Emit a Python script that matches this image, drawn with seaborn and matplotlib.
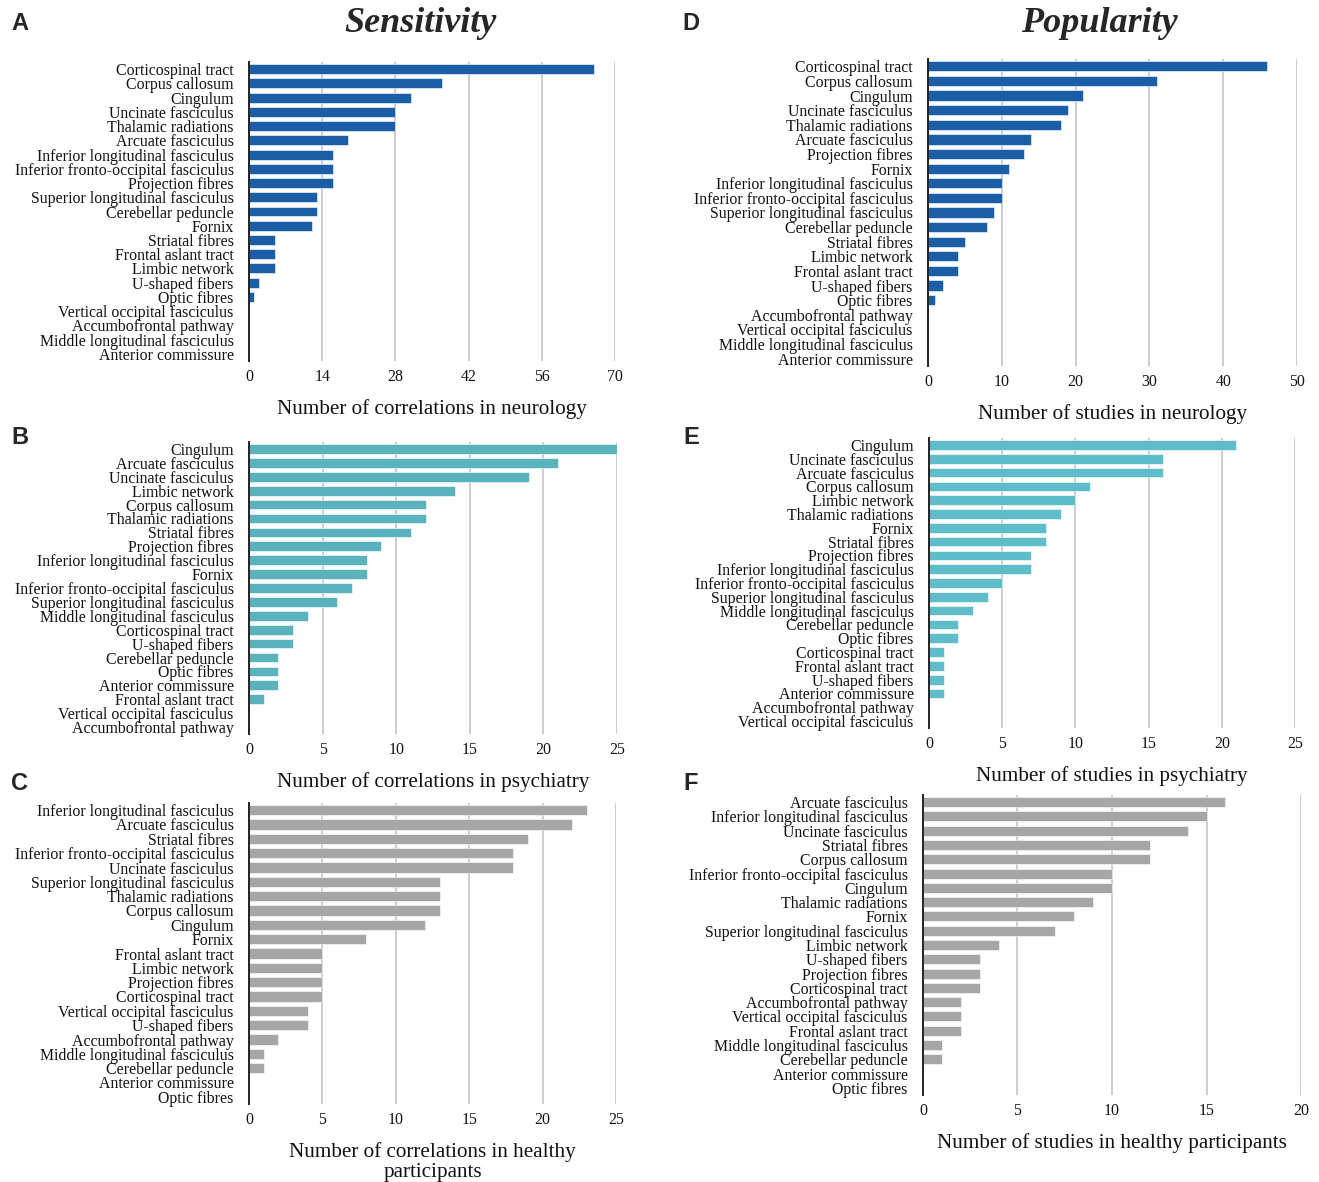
import numpy as np
import pandas as pd
import matplotlib.pyplot as plt
import seaborn as sns

sns.set_style("white")
plt.rcParams['font.family'] = ['Liberation Serif', 'DejaVu Serif']

# Panel A - correlations in neurology
A_cats = ["Corticospinal tract", "Corpus callosum", "Cingulum", "Uncinate fasciculus",
          "Thalamic radiations", "Arcuate fasciculus", "Inferior longitudinal fasciculus",
          "Inferior fronto-occipital fasciculus", "Projection fibres",
          "Superior longitudinal fasciculus", "Cerebellar peduncle", "Fornix",
          "Striatal fibres", "Frontal aslant tract", "Limbic network", "U-shaped fibers",
          "Optic fibres", "Vertical occipital fasciculus", "Accumbofrontal pathway",
          "Middle longitudinal fasciculus", "Anterior commissure"]
A_vals = [66, 37, 31, 28, 28, 19, 16, 16, 16, 13, 13, 12, 5, 5, 5, 2, 1, 0, 0, 0, 0]

# Panel B - correlations in psychiatry
B_cats = ["Cingulum", "Arcuate fasciculus", "Uncinate fasciculus", "Limbic network",
          "Corpus callosum", "Thalamic radiations", "Striatal fibres", "Projection fibres",
          "Inferior longitudinal fasciculus", "Fornix",
          "Inferior fronto-occipital fasciculus", "Superior longitudinal fasciculus",
          "Middle longitudinal fasciculus", "Corticospinal tract", "U-shaped fibers",
          "Cerebellar peduncle", "Optic fibres", "Anterior commissure",
          "Frontal aslant tract", "Vertical occipital fasciculus", "Accumbofrontal pathway"]
B_vals = [25, 21, 19, 14, 12, 12, 11, 9, 8, 8, 7, 6, 4, 3, 3, 2, 2, 2, 1, 0, 0]

# Panel C - correlations in healthy participants
C_cats = ["Inferior longitudinal fasciculus", "Arcuate fasciculus", "Striatal fibres",
          "Inferior fronto-occipital fasciculus", "Uncinate fasciculus",
          "Superior longitudinal fasciculus", "Thalamic radiations", "Corpus callosum",
          "Cingulum", "Fornix", "Frontal aslant tract", "Limbic network",
          "Projection fibres", "Corticospinal tract", "Vertical occipital fasciculus",
          "U-shaped fibers", "Accumbofrontal pathway", "Middle longitudinal fasciculus",
          "Cerebellar peduncle", "Anterior commissure", "Optic fibres"]
C_vals = [23, 22, 19, 18, 18, 13, 13, 13, 12, 8, 5, 5, 5, 5, 4, 4, 2, 1, 1, 0, 0]

# Panel D - studies in neurology
D_cats = ["Corticospinal tract", "Corpus callosum", "Cingulum", "Uncinate fasciculus",
          "Thalamic radiations", "Arcuate fasciculus", "Projection fibres", "Fornix",
          "Inferior longitudinal fasciculus", "Inferior fronto-occipital fasciculus",
          "Superior longitudinal fasciculus", "Cerebellar peduncle", "Striatal fibres",
          "Limbic network", "Frontal aslant tract", "U-shaped fibers", "Optic fibres",
          "Accumbofrontal pathway", "Vertical occipital fasciculus",
          "Middle longitudinal fasciculus", "Anterior commissure"]
D_vals = [46, 31, 21, 19, 18, 14, 13, 11, 10, 10, 9, 8, 5, 4, 4, 2, 1, 0, 0, 0, 0]

# Panel E - studies in psychiatry
E_cats = ["Cingulum", "Uncinate fasciculus", "Arcuate fasciculus", "Corpus callosum",
          "Limbic network", "Thalamic radiations", "Fornix", "Striatal fibres",
          "Projection fibres", "Inferior longitudinal fasciculus",
          "Inferior fronto-occipital fasciculus", "Superior longitudinal fasciculus",
          "Middle longitudinal fasciculus", "Cerebellar peduncle", "Optic fibres",
          "Corticospinal tract", "Frontal aslant tract", "U-shaped fibers",
          "Anterior commissure", "Accumbofrontal pathway", "Vertical occipital fasciculus"]
E_vals = [21, 16, 16, 11, 10, 9, 8, 8, 7, 7, 5, 4, 3, 2, 2, 1, 1, 1, 1, 0, 0]

# Panel F - studies in healthy participants
F_cats = ["Arcuate fasciculus", "Inferior longitudinal fasciculus", "Uncinate fasciculus",
          "Striatal fibres", "Corpus callosum", "Inferior fronto-occipital fasciculus",
          "Cingulum", "Thalamic radiations", "Fornix", "Superior longitudinal fasciculus",
          "Limbic network", "U-shaped fibers", "Projection fibres", "Corticospinal tract",
          "Accumbofrontal pathway", "Vertical occipital fasciculus", "Frontal aslant tract",
          "Middle longitudinal fasciculus", "Cerebellar peduncle", "Anterior commissure",
          "Optic fibres"]
F_vals = [16, 15, 14, 12, 12, 10, 10, 9, 8, 7, 4, 3, 3, 3, 2, 2, 2, 1, 1, 0, 0]

BLUE = "#1c5ea6"
TEAL = "#5ab3bc"
TEAL2 = "#5ebdc9"
GREY = "#a6a6a6"

W, H = 1319, 1182
fig = plt.figure(figsize=(W / 100, H / 100), dpi=100)


def panel(box, cats, vals, color, xmax, step, xlabel):
    # box in pixels: left, top, right, bottom
    l, t, r, b = box
    ax = fig.add_axes([l / W, 1 - b / H, (r - l) / W, (b - t) / H])
    df = pd.DataFrame({'tract': cats, 'n': vals})
    sns.barplot(data=df, x='n', y='tract', color=color, saturation=1, width=0.7,
                edgecolor='white', linewidth=0.4, ax=ax, zorder=3)
    ax.set_xlim(0, xmax)
    ax.set_xticks(np.arange(0, xmax + 0.1, step))
    ax.grid(axis='x', color='#c8c8c8', linewidth=1.3, zorder=0)
    ax.set_axisbelow(True)
    for s in ['top', 'right', 'bottom']:
        ax.spines[s].set_visible(False)
    ax.spines['left'].set_color('#222222')
    ax.spines['left'].set_linewidth(1.4)
    ax.spines['left'].set_zorder(5)
    ax.tick_params(axis='y', length=0, pad=11, labelsize=11.4, colors='#111111')
    ax.tick_params(axis='x', length=0, pad=6, labelsize=11.4, colors='#111111')
    ax.set_ylabel('')
    ax.set_xlabel(xlabel, fontsize=15.2, labelpad=10, color='#111111',
                  linespacing=1.05)
    return ax


panel((249, 62, 615, 361), A_cats, A_vals, BLUE, 70, 14,
      'Number of correlations in neurology')
panel((249, 442, 617, 734), B_cats, B_vals, TEAL, 25, 5,
      'Number of correlations in psychiatry')
panel((249, 803, 616, 1104), C_cats, C_vals, GREY, 25, 5,
      'Number of correlations in healthy\nparticipants')
panel((928, 59, 1297, 366), D_cats, D_vals, BLUE, 50, 10,
      'Number of studies in neurology')
panel((929, 438, 1295, 728), E_cats, E_vals, TEAL2, 25, 5,
      'Number of studies in psychiatry')
panel((923, 795, 1301, 1095), F_cats, F_vals, GREY, 20, 5,
      'Number of studies in healthy participants')

# column titles
fig.text(420 / W, 1 - 24 / H, 'Sensitivity', ha='center', va='center',
         fontsize=26, fontweight='bold', fontstyle='italic')
fig.text(1099 / W, 1 - 24 / H, 'Popularity', ha='center', va='center',
         fontsize=26, fontweight='bold', fontstyle='italic')

# panel letters
for letter, x, y in [('A', 20, 23), ('B', 20, 438), ('C', 20, 783),
                     ('D', 691, 23), ('E', 691, 438), ('F', 691, 783)]:
    fig.text(x / W, 1 - y / H, letter, ha='center', va='center', fontsize=17,
             fontweight='bold', family='Liberation Sans')

fig.savefig('out.png', dpi=100)
